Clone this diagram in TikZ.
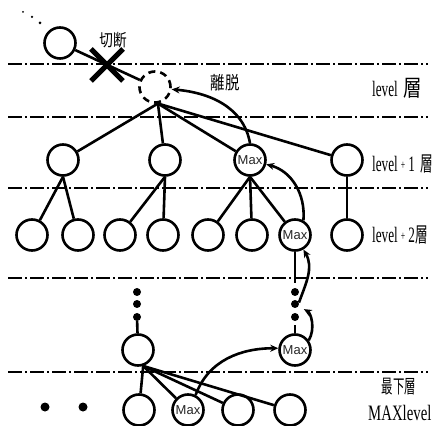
\documentclass[tikz,border=0pt]{standalone}
\usepackage{fontspec}
\usepackage{graphicx}
\usetikzlibrary{arrows.meta,shapes.misc}
\newfontfamily\lvfont[FakeStretch=0.6]{Liberation Serif}
\newfontfamily\jpfont[FakeStretch=0.8]{Noto Sans CJK JP}
\newfontfamily\jpnarrow[FakeStretch=0.6]{Noto Sans CJK JP}
\newfontfamily\maxfont{Liberation Sans}
\newcommand{\lvplus}{\hspace{3pt}\raisebox{2pt}{\fontsize{13}{13}\selectfont +}\hspace{3pt}}
\tikzset{
	vtx/.style={circle, draw, line width=2.6pt, minimum size=31pt, inner sep=0pt},
	maxvtx/.style={vtx, font=\maxfont\fontsize{13}{13}\selectfont, text=black!85},
	gone/.style={vtx, dash pattern=on 7pt off 5pt},
	blob/.style={circle, fill, inner sep=0pt, minimum size=8pt},
	speck/.style={circle, fill, inner sep=0pt, minimum size=3pt},
	link/.style={line width=2.6pt},
	layer/.style={line width=2.4pt, dash pattern=on 14pt off 3pt on 2pt off 3pt},
	push/.style={line width=2.6pt, -{Stealth[length=8pt,width=7pt]}},
	lv/.style={anchor=base west, inner sep=0pt, font=\lvfont\fontsize{22}{24}\selectfont},
}

\begin{document}
\begin{tikzpicture}[x=1pt,y=1pt]
		%%%%% START %%%%%
		\useasboundingbox (0,0) rectangle (435,425);
		
		\foreach \y in {361,308,237,147,53}
			\draw[layer] (8,\y) -- (428,\y);
		
		% detached node
		\node[speck] (s1) at (40,402) {};
		\node[speck, minimum size=2.5pt] (s2) at (32,408) {};
		\node[speck, minimum size=2pt] (s3) at (23,413) {};
		\node[vtx] (c0) at (60,382) {};
		\node[gone] (d0) at (155,338) {};
		\draw[link] (c0) -- (d0);
		\node[cross out, draw, line width=5pt, minimum size=27pt, inner sep=0pt] (x0) at (107,360) {};
		\node[font=\jpfont\fontsize{17}{17}\selectfont] (cutlbl) at (113,385) {切断};
		\node[font=\jpfont\fontsize{18}{18}\selectfont] (offlbl) at (225,342) {離脱};
		
		% level + 1
		\node[vtx] (a1) at (63,265) {};
		\node[vtx] (a2) at (165,265) {};
		\node[maxvtx] (am) at (250,265) {Max};
		\node[vtx] (a4) at (347,265) {};
		\foreach \n in {a1,a2,am,a4}
			\draw[link] (d0.-80) -- (\n);
		
		% level + 2
		\node[vtx] (b1) at (32,190) {};
		\node[vtx] (b2) at (78,190) {};
		\node[vtx] (b3) at (120,190) {};
		\node[vtx] (b4) at (163,190) {};
		\node[vtx] (b5) at (208,190) {};
		\node[vtx] (b6) at (252,190) {};
		\node[maxvtx] (bm) at (295,190) {Max};
		\node[vtx] (b8) at (347,190) {};
		\draw[link] (a1.south) -- (b1);
		\draw[link] (a1.south) -- (b2);
		\draw[link] (a2.south) -- (b3);
		\draw[link] (a2.south) -- (b4);
		\draw[link] (am.south) -- (b5);
		\draw[link] (am.south) -- (b6);
		\draw[link] (am.south) -- (bm);
		\draw[link] (a4) -- (b8);
		
		% going down
		\node[blob] (dl1) at (137,133) {};
		\node[blob] (dl2) at (137,121) {};
		\node[blob] (dl3) at (137,108) {};
		\node[blob] (dr1) at (295,133) {};
		\node[blob] (dr2) at (295,121) {};
		\node[blob] (dr3) at (295,108) {};
		\node[vtx] (cp) at (138,75) {};
		\node[maxvtx] (mr) at (295,75) {Max};
		\draw[link] (dl3) -- (cp);
		\draw[link, shorten >=5pt] (bm) -- (dr1);
		\draw[link, shorten <=4pt] (dr3) -- (mr);
		
		% bottom layer
		\node[blob, minimum size=9pt] (f1) at (45,18) {};
		\node[blob, minimum size=9pt] (f2) at (83,18) {};
		\node[vtx] (e1) at (139,15) {};
		\node[maxvtx] (em) at (188,15) {Max};
		\node[vtx] (e3) at (238,15) {};
		\node[vtx] (e4) at (290,15) {};
		\foreach \n in {e1,em,e3,e4}
			\draw[link] (cp.-72) -- (\n);
		
		% Max moving up
		\draw[push] (em.63) to[out=70,in=180] (mr.174);
		\draw[push, shorten >=6pt] (mr.35) to[out=60,in=-30] (dr2.-30);
		\draw[push] (dr2.20) to[out=70,in=-60] (bm.-60);
		\draw[push] (bm.60) to[out=85,in=-15] (am.-15);
		\draw[push] (am.north) to[out=100,in=-5] (d0.-8);
		
		% layer names
		\node[lv] (t0) at (372,328) {level\hspace{6pt}{\jpfont\fontsize{23}{23}\selectfont 層}};
		\node[lv] (t1) at (372,253) {level\lvplus 1\hspace{6pt}{\jpnarrow\fontsize{21}{21}\selectfont 層}};
		\node[lv] (t2) at (372,182) {level\lvplus 2\hspace{1pt}{\jpnarrow\fontsize{21}{21}\selectfont 層}};
		\node[font=\jpnarrow\fontsize{19}{19}\selectfont] (t3) at (399,38) {最下層};
		\node[lv] (t4) at (368,5) {\scalebox{1.12}[1]{MAXlevel}};
		
		%%%%% END %%%%%
	\end{tikzpicture}
\end{document}
